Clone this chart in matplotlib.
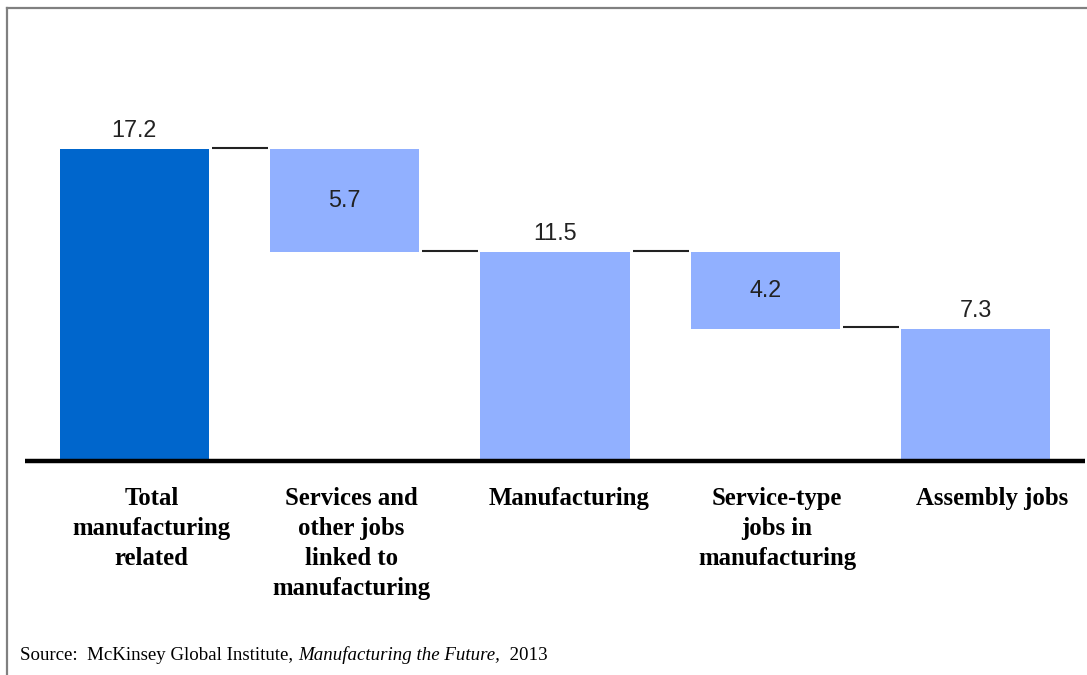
import matplotlib
matplotlib.use("Agg")
import matplotlib.pyplot as plt
from matplotlib.lines import Line2D

categories = ["Total\nmanufacturing\nrelated",
              "Services and\nother jobs\nlinked to\nmanufacturing",
              "Manufacturing",
              "Service-type\njobs in\nmanufacturing",
              "Assembly jobs"]
values = [17.2, -5.7, 11.5, -4.2, 7.3]
kinds = ["total", "delta", "total", "delta", "total"]
value_labels = ["17.2", "5.7", "11.5", "4.2", "7.3"]

# horizontal nudges of the category labels (layout only)
label_offsets = [0.083, 0.033, 0.069, 0.055, 0.078]

dark = "#0066CC"
light = "#91B0FF"

fig = plt.figure(figsize=(10.87, 6.75), dpi=100)
ax = fig.add_axes([29 / 1087, (675 - 461) / 675, (1081 - 29) / 1087, (461 - 7.5) / 675])
ax.set_xlim(-0.5, 4.5)
ax.set_ylim(0, 25)
ax.axis("off")

w = 0.71
level = 0.0
bottoms, heights, tops = [], [], []
for v, k in zip(values, kinds):
    if k == "total":
        b, h = 0.0, v
        level = v
    else:
        b, h = level + v, -v
        level = level + v
    bottoms.append(b)
    heights.append(h)
    tops.append(level)

colors = [dark] + [light] * (len(values) - 1)
xs = list(range(len(values)))
ax.bar(xs, heights, bottom=bottoms, width=w, color=colors, edgecolor="none", zorder=2)

# connectors
for i in range(len(values) - 1):
    y = tops[i]
    ax.plot([i + w / 2 + 0.015, i + 1 - w / 2 - 0.01], [y + 0.06, y + 0.06],
            color="#222222", lw=1.5, zorder=3, solid_capstyle="butt")

# value labels
for i, (k, lab) in enumerate(zip(kinds, value_labels)):
    if k == "total":
        ax.annotate(lab, (i, bottoms[i] + heights[i]), xytext=(0, 5),
                    textcoords="offset points", ha="center", va="bottom",
                    fontsize=16.8, family="Liberation Sans", color="#222222")
    else:
        ax.text(i, bottoms[i] + heights[i] / 2, lab, ha="center", va="center",
                fontsize=16.8, family="Liberation Sans", color="#222222")

# baseline
ax.plot([-0.52, 4.52], [0, 0], color="black", lw=3.2, clip_on=False, zorder=4,
        solid_capstyle="butt")

# category labels
for i, c in enumerate(categories):
    ax.text(i + label_offsets[i], -1.42, c, ha="center", va="top", fontsize=17.8,
            fontweight="bold", family="Liberation Serif", linespacing=1.385,
            clip_on=False)

# border
fig.add_artist(Line2D([6.5 / 1087, 1.0], [1 - 7.5 / 675, 1 - 7.5 / 675],
                      transform=fig.transFigure, color="#808080", lw=1.6))
fig.add_artist(Line2D([6.5 / 1087, 6.5 / 1087], [0, 1 - 7.5 / 675],
                      transform=fig.transFigure, color="#808080", lw=1.6))

# source
src_parts = [("Source:  McKinsey Global Institute, ", "normal"),
             ("Manufacturing the Future,", "italic"),
             ("  2013", "normal")]
fig.canvas.draw()
renderer = fig.canvas.get_renderer()
xpix = 20.0
for txt, style in src_parts:
    t = fig.text(xpix / 1087, 1 - 655 / 675, txt, ha="left", va="center",
                 fontsize=13.6, family="Liberation Serif", style=style)
    bb = t.get_window_extent(renderer=renderer)
    xpix += bb.width

fig.savefig("out.png", dpi=100)
